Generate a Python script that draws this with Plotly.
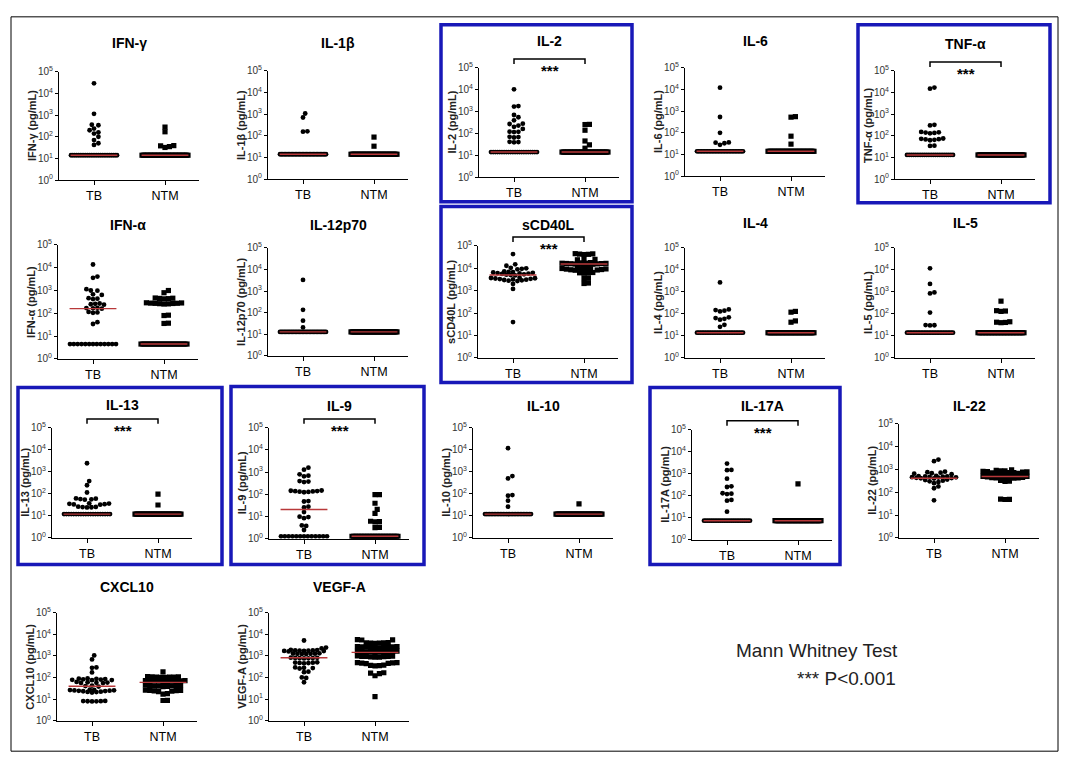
import numpy as np
import plotly.graph_objects as go

W, H = 1075, 768
FONT = "Liberation Sans, Arial, sans-serif"

# ---------------- data (pg/mL) ----------------
names = ["IFN-γ", "IL-1β", "IL-2", "IL-6", "TNF-α",
         "IFN-α", "IL-12p70", "sCD40L", "IL-4", "IL-5",
         "IL-13", "IL-9", "IL-10", "IL-17A", "IL-22",
         "CXCL10", "VEGF-A"]
groups = ["TB", "NTM"]
tick_vals = [1, 10, 100, 1000, 10000, 100000]
tick_text = ["10<sup>0</sup>", "10<sup>1</sup>", "10<sup>2</sup>",
             "10<sup>3</sup>", "10<sup>4</sup>", "10<sup>5</sup>"]

ifng_tb = [29500, 1150, 360, 340, 240, 200, 160, 140, 100, 70, 50, 42] + [14] * 26
ifng_ntm = [280, 170, 39, 38, 35, 32] + [14] * 34
il1b_tb = [1070, 700, 160, 155] + [14] * 34
il1b_ntm = [87, 33] + [14] * 38
il2_tb = [10500, 1800, 1700, 700, 550, 400, 280, 270, 230, 200, 160, 120, 118,
          115, 70, 68, 65, 41, 40, 39] + [14] * 22
il2_ntm = [260, 255, 140, 45, 30, 21] + [14] * 34
il6_tb = [12300, 540, 100, 36, 35, 33, 28] + [14] * 31
il6_ntm = [560, 530, 70, 30] + [14] * 36
tnfa_tb = [17000, 15000, 320, 300, 150, 145, 140, 135, 130, 75, 72, 70, 68, 65,
           62, 35, 34] + [13] * 22
tnfa_ntm = [13] * 40
ifna_tb = [13800, 4100, 3600, 1140, 1000, 980, 680, 640, 460, 440, 420, 270, 260,
           250, 240, 175, 170, 165, 160, 115, 110, 105, 41, 34] + [4.5] * 13
ifna_ntm = [1000, 800, 470, 460, 450, 440, 430, 290, 285, 280, 276, 274, 270, 265,
            260, 255, 83, 80, 37, 36] + [4.5] * 24
il12_tb = [3300, 137, 43, 21] + [13] * 34
il12_ntm = [13] * 40
scd40l_tb = [43000, 15000, 13000, 10500, 10000, 9500, 9000, 7200, 7000, 6800,
             6500, 6300, 6100, 6000, 5800, 5600, 5400, 5200, 5000, 4800, 3800,
             3700, 3600, 3500, 3400, 3300, 3200, 3100, 3000, 2900, 2800, 2700,
             2000, 1200, 40]
scd40l_ntm = [45000, 44000, 43000, 42000, 41000, 26000, 25000, 24000, 18000,
              17500, 17000, 16800, 16600, 16400, 16200, 16000, 15800, 15500,
              15200, 15000, 14500, 14000, 10000, 9800, 9600, 9400, 9300, 9200,
              9000, 8800, 8600, 8400, 8200, 6500, 6300, 6100, 6000, 3600, 3500,
              2200, 2100]
il4_tb = [2700, 160, 150, 140, 130, 70, 65, 60, 55, 32, 26] + [14] * 28
il4_ntm = [130, 120, 48, 42] + [14] * 36
il5_tb = [11800, 2300, 950, 850, 115, 31, 30.5, 30] + [14] * 30
il5_ntm = [380, 140, 135, 130, 44, 42, 41, 40] + [14] * 32
il13_tb = [2450, 380, 245, 115, 62, 60, 58, 56, 54, 37, 36, 35, 34, 33, 32, 26,
           25.5, 25, 24.5, 24] + [12] * 20
il13_ntm = [96, 31] + [12] * 38
il9_tb = [1600, 1300, 800, 700, 650, 400, 380, 360, 150, 146, 142, 140, 136,
          133, 130, 125, 50, 48, 28, 26, 16, 10, 9.5, 8.5, 4, 3.8, 2.5] + [1.3] * 13
il9_ntm = [98, 97, 40, 21, 14, 6.2, 6, 5.8, 3.3, 3.2] + [1.3] * 30
il10_tb = [11800, 640, 500, 88, 82, 49, 26] + [12] * 31
il10_ntm = [35] + [12] * 39
il17a_tb = [2900, 1500, 1450, 600, 270, 250, 130, 125, 120, 65, 60, 19] + [7.4] * 26
il17a_ntm = [350] + [7.4] * 39
il22_tb = [2700, 2300, 800, 760, 720, 680, 650, 620, 520, 510, 500, 490, 480,
           470, 460, 450, 440, 430, 420, 410, 400, 360, 340, 320, 300, 280, 250,
           180, 150, 44]
il22_ntm = [950, 910, 870, 860, 820, 800, 785, 760, 735, 720, 705, 680, 665, 640,
            625, 600, 585, 560, 555, 540, 530, 525, 510, 500, 495, 480, 470, 465,
            450, 440, 430, 425, 410, 330, 310, 300, 50, 49, 48]
cxcl10_tb = [1040, 680, 290, 280, 170, 90, 88, 86, 84, 82, 80, 78, 76, 75, 62, 60,
             58, 57, 56, 55, 42, 40, 38, 27, 26.5, 26, 25.5, 25, 24.5, 24, 23.5,
             23, 22, 21.5, 21, 20, 8.2, 8.1, 8.0, 7.95, 7.9, 7.8]
cxcl10_ntm = [180, 110, 108, 106, 105, 104, 103, 102, 100, 72, 71, 70.5, 70, 69,
              68.5, 68, 67, 66, 65, 44, 43, 42.5, 42, 41, 40.5, 40, 39, 38, 26, 25.5,
              25, 24.5, 24, 23, 22, 18, 17, 8.8, 8.6]
vegfa_tb = [5100, 2400, 2200, 1900, 1850, 1800, 1780, 1750, 1720, 1700, 1680,
            1650, 1600, 1300, 1280, 1260, 1250, 1240, 1220, 1200, 820, 810, 800,
            790, 780, 770, 760, 500, 490, 480, 470, 460, 450, 290, 280, 270, 260,
            185, 175, 100, 95, 60]
vegfa_ntm = [5600, 5500, 5400, 4100, 4000, 3950, 3900, 3850, 3800, 2700, 2650,
             2600, 2580, 2550, 2500, 2450, 2400, 2350, 2300, 1650, 1620, 1600,
             1580, 1560, 1540, 1520, 1500, 1480, 1450, 980, 960, 950, 940, 930,
             920, 900, 880, 860, 490, 480, 470, 460, 450, 440, 370, 360, 350, 340,
             165, 160, 150, 120, 13]

tb_data = [ifng_tb, il1b_tb, il2_tb, il6_tb, tnfa_tb, ifna_tb, il12_tb, scd40l_tb,
           il4_tb, il5_tb, il13_tb, il9_tb, il10_tb, il17a_tb, il22_tb, cxcl10_tb,
           vegfa_tb]
ntm_data = [ifng_ntm, il1b_ntm, il2_ntm, il6_ntm, tnfa_ntm, ifna_ntm, il12_ntm,
            scd40l_ntm, il4_ntm, il5_ntm, il13_ntm, il9_ntm, il10_ntm, il17a_ntm,
            il22_ntm, cxcl10_ntm, vegfa_ntm]
median_tb = [14, 14, 14, 14, 13, 160, 13, 5000, 14, 14, 12, 21, 12, 7.4, 410, 39, 810]
median_ntm = [14, 14, 14, 14, 13, 4.5, 13, 15500, 14, 14, 12, 1.3, 12, 7.4, 490, 59, 1450]
significant = [False, False, True, False, True, False, False, True, False, False,
               True, True, False, True, False, False, False]

# ---------------- layout geometry (pixels) ----------------
axis_left = [59, 268, 479, 685, 895, 58, 268, 478, 685, 895, 52, 269, 473, 692, 899, 57, 269]
axis_top = [66, 65, 62, 62, 65, 242, 245, 243, 245, 245, 428, 428, 428, 430, 424, 616, 616]
axis_bot = [176, 175, 173, 172, 175, 358, 355, 357, 357, 357, 540, 541, 540, 542, 540, 726, 726]
title_y = [37, 37, 35, 35, 38, 222, 222, 222, 220, 220, 405, 406, 406, 406, 406, 590, 590]
TB_OFF, NTM_OFF, AX_W = 35, 106, 140
UNIT = NTM_OFF - TB_OFF
blue_boxes = [(441, 18, 632, 198), (858, 18, 1050, 199), (441, 203, 632, 382),
              (18, 387, 222, 567), (231, 386, 424, 567), (650, 387, 840, 567)]


def px(x):
    return x / W


def py(y):
    return 1 - y / H


def swarm(vals, ppd, diam, maxhalf=23.0):
    vals = np.asarray(vals, float)
    n = len(vals)
    ys = np.log10(vals) * ppd
    offs = np.zeros(n)
    done = np.zeros(n, bool)
    u, c = np.unique(vals, return_counts=True)
    for uv, cnt in zip(u, c):
        if cnt >= 6:
            idx = np.where(vals == uv)[0]
            half = min(maxhalf, (cnt - 1) * diam / 2)
            offs[idx] = np.linspace(-half, half, cnt)
            done[idx] = True
    step = diam / 2
    cands = [0.0]
    for k in range(1, 40):
        cands += [k * step, -k * step]
    placed = []
    for i in np.argsort(ys):
        if done[i]:
            continue
        best, bestd = 0.0, -1.0
        for cx in cands:
            if abs(cx) > maxhalf:
                continue
            md = min([np.hypot(cx - a, ys[i] - b) for a, b in placed], default=1e9)
            if md >= diam:
                best = cx
                break
            if md > bestd:
                best, bestd = cx, md
        offs[i] = best
        placed.append((best, ys[i]))
    return offs


fig = go.Figure()
layout = dict(width=W, height=H, margin=dict(l=0, r=0, t=0, b=0),
              paper_bgcolor="white", plot_bgcolor="white", showlegend=False)
annotations = []
shapes = []
xr = [-TB_OFF / UNIT, (AX_W - TB_OFF) / UNIT]

for i, name in enumerate(names):
    k = i + 1
    xa = "x" if k == 1 else f"x{k}"
    ya = "y" if k == 1 else f"y{k}"
    left, top, bot = axis_left[i], axis_top[i], axis_bot[i]
    ppd = (bot - top) / 5.0

    for g, (data, sym, size, med) in enumerate([
            (tb_data[i], "circle", 4.8, median_tb[i]),
            (ntm_data[i], "square", 5.2, median_ntm[i])]):
        offs = swarm(data, ppd, 4.4)
        fig.add_trace(go.Scatter(
            x=g + offs / UNIT, y=data, mode="markers", xaxis=xa, yaxis=ya,
            marker=dict(symbol=sym, size=size, color="black", line=dict(width=0)),
            hoverinfo="skip"))
        fig.add_trace(go.Scatter(
            x=[g - 0.33, g + 0.33], y=[med, med], mode="lines", xaxis=xa, yaxis=ya,
            line=dict(color="#b8383a", width=1.4), hoverinfo="skip"))

    layout["xaxis" if k == 1 else f"xaxis{k}"] = dict(
        domain=[px(left), px(left + AX_W)], anchor=ya, range=xr,
        tickvals=[0, 1], ticktext=groups, ticks="outside", ticklen=4,
        tickcolor="black", showline=True, linecolor="black", linewidth=1,
        showgrid=False, zeroline=False, fixedrange=True,
        tickfont=dict(family=FONT, size=12.5, color="black"))
    layout["yaxis" if k == 1 else f"yaxis{k}"] = dict(
        domain=[py(bot), py(top)], anchor=xa, type="log", range=[0, 5],
        tickvals=tick_vals, ticktext=tick_text, ticks="outside", ticklen=3,
        tickcolor="black", showline=True, linecolor="black", linewidth=1,
        showgrid=False, zeroline=False, fixedrange=True,
        tickfont=dict(family=FONT, size=10, color="#333"))

    annotations.append(dict(
        x=px(left + AX_W / 2), y=py(title_y[i]), xref="paper", yref="paper",
        text=f"<b>{name}</b>", showarrow=False, xanchor="center", yanchor="middle",
        font=dict(family=FONT, size=14, color="black")))
    annotations.append(dict(
        x=px(left - 27), y=py((top + bot) / 2), xref="paper", yref="paper",
        text=f"<b>{name} (pg/mL)</b>", showarrow=False, textangle=-90,
        xanchor="center", yanchor="middle",
        font=dict(family=FONT, size=11, color="#222")))

    if significant[i]:
        x0, x1 = left + TB_OFF, left + NTM_OFF
        yb = top - 9
        shapes.append(dict(type="path", xref="paper", yref="paper",
                           path=f"M {px(x0)},{py(yb + 5)} L {px(x0)},{py(yb)} "
                                f"L {px(x1)},{py(yb)} L {px(x1)},{py(yb + 5)}",
                           line=dict(color="black", width=1.5)))
        annotations.append(dict(
            x=px((x0 + x1) / 2), y=py(top + 3), xref="paper", yref="paper",
            text="<b>***</b>", showarrow=False, xanchor="center", yanchor="middle",
            font=dict(family=FONT, size=15, color="black")))

for (x0, y0, x1, y1) in blue_boxes:
    shapes.append(dict(type="rect", xref="paper", yref="paper",
                       x0=px(x0), y0=py(y1), x1=px(x1), y1=py(y0),
                       line=dict(color="#1818b8", width=3.5)))

shapes.append(dict(type="rect", xref="paper", yref="paper",
                   x0=px(11), y0=py(757), x1=px(1058), y1=py(10),
                   line=dict(color="black", width=1)))

annotations.append(dict(x=px(900), y=py(655), xref="paper", yref="paper",
                        text="Mann Whitney Test", showarrow=False,
                        xanchor="right", yanchor="middle",
                        font=dict(family=FONT, size=19, color="#222")))
annotations.append(dict(x=px(898), y=py(683), xref="paper", yref="paper",
                        text="*** P<0.001", showarrow=False,
                        xanchor="right", yanchor="middle",
                        font=dict(family=FONT, size=19, color="#222")))

layout["annotations"] = annotations
layout["shapes"] = shapes
fig.update_layout(**layout)
fig.write_html("out.html",
               config={"displayModeBar": False, "staticPlot": False},
               post_script="document.body.style.margin='0px';"
                           "document.body.style.padding='0px';")
